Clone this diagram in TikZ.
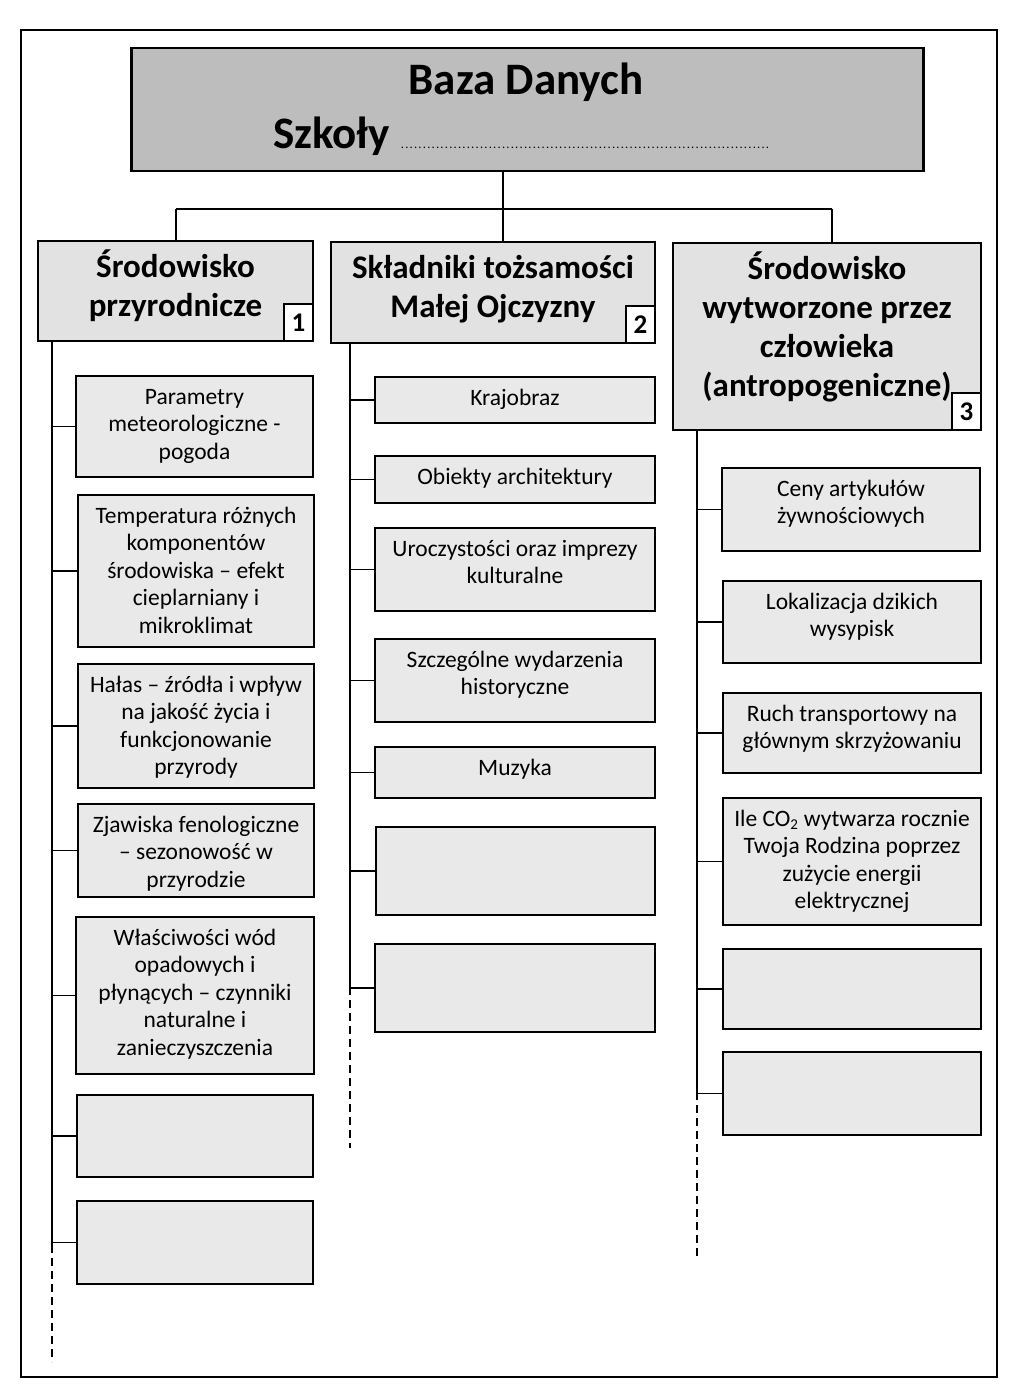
\documentclass[tikz,border=0pt]{standalone}
\usepackage{fontspec}
\setmainfont{Carlito}
\definecolor{titlegray}{HTML}{BDBDBD}
\definecolor{headgray}{HTML}{E2E2E2}
\definecolor{cellgray}{HTML}{E9E9E9}
\newcommand\cellc[3]{\parbox[c][#2pt][t]{#1pt}{\vspace*{9pt}\centering\strut #3\par}}
\newcommand\headc[3]{\parbox[c][#2pt][t]{#1pt}{\vspace*{9pt}\centering\strut #3\par}}
\begin{document}
\begin{tikzpicture}[x=1pt,y=-1pt,
  cbox/.style={draw=black, line width=2pt, fill=cellgray, inner sep=0pt, anchor=north west,
    font=\fontsize{23.5}{27.5}\selectfont},
  hbox/.style={draw=black, line width=2pt, fill=headgray, inner sep=0pt, anchor=north west,
    font=\fontsize{33}{39}\selectfont\bfseries},
  numbox/.style={draw=black, line width=2pt, fill=white, inner sep=0pt, minimum width=29pt,
    minimum height=37pt, anchor=south east, font=\fontsize{27}{30}\selectfont\bfseries},
  conn/.style={draw=black, line width=1.8pt},
  tail/.style={draw=black, line width=1.4pt, dash pattern=on 8pt off 5pt},
]
\useasboundingbox (0,0) rectangle (1024,1388);
% outer frame
\draw[line width=2.2pt] (21,30) rectangle (997,1377);

% title
\node[draw=black, line width=2.5pt, fill=titlegray, anchor=north west, inner sep=0pt,
  minimum width=792pt, minimum height=123pt] (title) at (130,47) {};
\node[anchor=base, font=\fontsize{45}{50}\selectfont\bfseries] (bd) at (526,95) {Baza Danych};
\node[anchor=base west, inner sep=0pt, font=\fontsize{45}{50}\selectfont\bfseries] (sz) at (273,149)
  {Szkoły\hspace{8pt}{\fontsize{10}{10}\selectfont\makebox[374pt]{\dotfill}}};

% headers
\node[hbox] (h1) at (37,240) {\headc{275}{100}{Środowisko\\przyrodnicze}};
\node[hbox] (h2) at (330,241) {\headc{324}{101}{Składniki tożsamości\\Małej Ojczyzny}};
\node[hbox] (h3) at (672,242) {\headc{308}{187}{Środowisko\\wytworzone przez\\człowieka\\(antropogeniczne)}};
\node[numbox] (n1) at (h1.south east) {1};
\node[numbox] (n2) at (h2.south east) {2};
\node[numbox] (n3) at (h3.south east) {3};

% bus
\coordinate (bm) at (503,209);
\coordinate (bl) at (176,209);
\coordinate (br) at (832,209);
\draw[conn] (title.south -| bm) -- (bm);
\draw[conn] (bl) -- (br);
\draw[conn] (bl) -- (h1.north -| bl);
\draw[conn] (bm) -- (h2.north -| bm);
\draw[conn] (br) -- (h3.north -| br);

% column 1
\node[cbox] (a1) at (75,375) {\cellc{237}{101}{Parametry\\meteorologiczne -\\pogoda}};
\node[cbox] (a2) at (77,494) {\cellc{236}{152}{Temperatura różnych\\komponentów\\środowiska – efekt\\cieplarniany i\\mikroklimat}};
\node[cbox] (a3) at (77,663) {\cellc{236}{124}{Hałas – źródła i wpływ\\na jakość życia i\\funkcjonowanie\\przyrody}};
\node[cbox] (a4) at (77,803) {\cellc{236}{93}{Zjawiska fenologiczne\\– sezonowość w\\przyrodzie}};
\node[cbox] (a5) at (75,916) {\cellc{238}{157}{Właściwości wód\\opadowych i\\płynących – czynniki\\naturalne i\\zanieczyszczenia}};
\node[cbox] (a6) at (76,1094) {\cellc{236}{82}{}};
\node[cbox] (a7) at (76,1200) {\cellc{236}{83}{}};
\coordinate (t1s) at (52,340);
\coordinate (t1m) at (52,1245);
\coordinate (t1e) at (52,1362);
\draw[conn] (h1.south -| t1s) -- (t1m);
\draw[tail] (t1m) -- (t1e);
\foreach \n in {a1,a2,a3,a4,a5,a6,a7} \draw[conn] (\n.west) -- (\n.west -| t1s);

% column 2
\node[cbox] (b1) at (374,376) {\cellc{280}{46}{Krajobraz}};
\node[cbox] (b2) at (374,455) {\cellc{280}{47}{Obiekty architektury}};
\node[cbox] (b3) at (374,527) {\cellc{280}{83}{Uroczystości oraz imprezy\\kulturalne}};
\node[cbox] (b4) at (374,638) {\cellc{280}{83}{Szczególne wydarzenia\\historyczne}};
\node[cbox] (b5) at (374,746) {\cellc{280}{51}{Muzyka}};
\node[cbox] (b6) at (375,826) {\cellc{279}{88}{}};
\node[cbox] (b7) at (374,943) {\cellc{280}{88}{}};
\coordinate (t2s) at (350,342);
\coordinate (t2m) at (350,987);
\coordinate (t2e) at (350,1148);
\draw[conn] (h2.south -| t2s) -- (t2m);
\draw[tail] (t2m) -- (t2e);
\foreach \n in {b1,b2,b3,b4,b5,b6,b7} \draw[conn] (\n.west) -- (\n.west -| t2s);

% column 3
\node[cbox] (c1) at (721,467) {\cellc{258}{83}{Ceny artykułów\\żywnościowych}};
\node[cbox] (c2) at (722,580) {\cellc{258}{82}{Lokalizacja dzikich\\wysypisk}};
\node[cbox] (c3) at (722,692) {\cellc{258}{80}{Ruch transportowy na\\głównym skrzyżowaniu}};
\node[cbox] (c4) at (722,797) {\cellc{258}{127}{Ile CO\textsubscript{\fontsize{15}{15}\selectfont 2} wytwarza rocznie\\Twoja Rodzina poprzez\\zużycie energii\\elektrycznej}};
\node[cbox] (c5) at (722,948) {\cellc{258}{80}{}};
\node[cbox] (c6) at (722,1051) {\cellc{258}{83}{}};
\coordinate (t3s) at (697,429);
\coordinate (t3m) at (697,1092);
\coordinate (t3e) at (697,1256);
\draw[conn] (h3.south -| t3s) -- (t3m);
\draw[tail] (t3m) -- (t3e);
\foreach \n in {c1,c2,c3,c4,c5,c6} \draw[conn] (\n.west) -- (\n.west -| t3s);
\end{tikzpicture}
\end{document}
